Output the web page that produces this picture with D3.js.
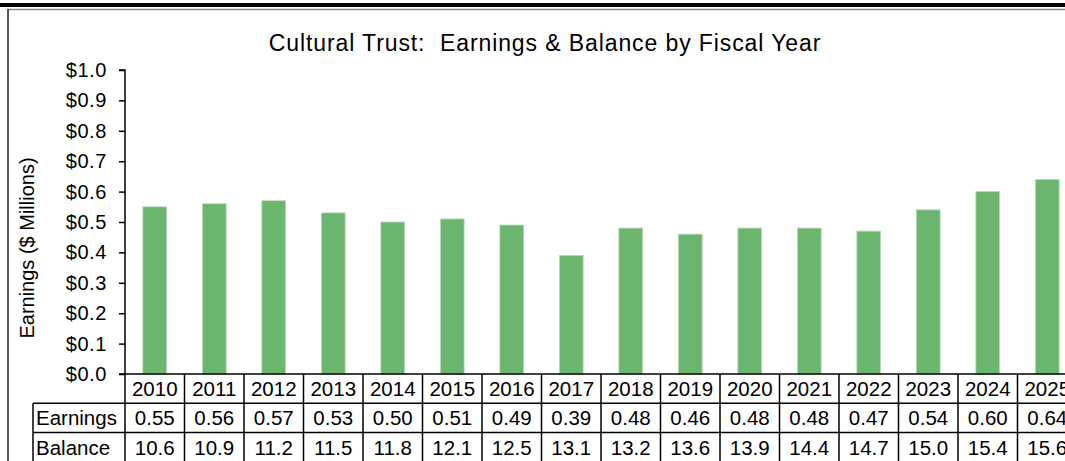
<!DOCTYPE html>
<html>
<head>
<meta charset="utf-8">
<script src="https://cdn.jsdelivr.net/npm/d3@7"></script>
<style>
  html, body { margin: 0; padding: 0; background: #fff; }
  svg { display: block; font-family: "Liberation Sans", Arial, sans-serif; }
  text { white-space: pre; }
</style>
</head>
<body>
<svg id="chart" width="1065" height="461"></svg>
<script>
const years = ["2010","2011","2012","2013","2014","2015","2016","2017","2018","2019","2020","2021","2022","2023","2024","2025"];
const earnings = [0.55,0.56,0.57,0.53,0.50,0.51,0.49,0.39,0.48,0.46,0.48,0.48,0.47,0.54,0.60,0.64];
const balance = [10.6,10.9,11.2,11.5,11.8,12.1,12.5,13.1,13.2,13.6,13.9,14.4,14.7,15.0,15.4,15.6];
const yTicks = [0,0.1,0.2,0.3,0.4,0.5,0.6,0.7,0.8,0.9,1.0];
const rowLabels = ["Earnings","Balance"];
const titleText = "Cultural Trust:  Earnings & Balance by Fiscal Year";
const yTitle = "Earnings ($ Millions)";

const svg = d3.select("#chart");
const W = 1065, H = 461;

// page decorations: heavy rule and chart frame
svg.append("rect").attr("x",0).attr("y",3).attr("width",W).attr("height",4).attr("fill","#000");
svg.append("line").attr("x1",8).attr("x2",W).attr("y1",9.5).attr("y2",9.5).attr("stroke","#888").attr("stroke-width",1.5);
svg.append("line").attr("x1",8).attr("x2",8).attr("y1",9).attr("y2",H).attr("stroke","#222").attr("stroke-width",1.5);

const plotLeft = 125, step = 59.5;
const plotRight = plotLeft + step * years.length;
const y0 = 374, y1 = 70;

const x = d3.scaleBand().domain(years).range([plotLeft, plotRight]).paddingInner(0.6).paddingOuter(0.3);
const xCol = d3.scaleBand().domain(years).range([plotLeft, plotRight]).padding(0);
const y = d3.scaleLinear().domain([0,1]).range([y0, y1]);

// title
svg.append("text").attr("x",545).attr("y",51).attr("text-anchor","middle")
  .attr("font-size",23).attr("letter-spacing",0.9).attr("fill","#000").text(titleText);

// y axis title
svg.append("text").attr("transform","translate(34,248) rotate(-90)").attr("text-anchor","middle")
  .attr("font-size",20).attr("fill","#000").text(yTitle);

// bars
svg.append("g").selectAll("rect").data(years).join("rect")
  .attr("x", d => x(d)).attr("width", x.bandwidth())
  .attr("y", (d,i) => y(earnings[i])).attr("height", (d,i) => y0 - y(earnings[i]))
  .attr("fill","#6bb56e").attr("stroke","#b9ddb9").attr("stroke-width",0.8);

// y axis
const yAxis = d3.axisLeft(y).tickValues(yTicks).tickSize(6).tickPadding(12)
  .tickFormat(d => "$" + d3.format(".1f")(d));
const ga = svg.append("g").attr("transform",`translate(${plotLeft},0)`).call(yAxis);
ga.select(".domain").attr("stroke","#000").attr("stroke-width",1.5).attr("d",`M-6,${y1}H0V${y0}`);
ga.selectAll(".tick line").attr("stroke","#000").attr("stroke-width",1.5);
ga.selectAll(".tick text").attr("font-size",20).attr("letter-spacing",0.6)
  .attr("font-family","Liberation Sans, Arial, sans-serif").attr("fill","#000");

// data table
const rowH = 29.3;
const tbl = svg.append("g");
const lineAttrs = sel => sel.attr("stroke","#000").attr("stroke-width",1.5);
tbl.append("line").attr("x1",plotLeft-6).attr("x2",plotRight).attr("y1",y0).attr("y2",y0).call(lineAttrs);
[1,2,3].forEach(k => {
  tbl.append("line").attr("x1",33).attr("x2",plotRight).attr("y1",y0+k*rowH).attr("y2",y0+k*rowH).call(lineAttrs);
});
years.forEach(yr => {
  tbl.append("line").attr("x1",xCol(yr)).attr("x2",xCol(yr)).attr("y1",y0).attr("y2",y0+3*rowH).call(lineAttrs);
});
tbl.append("line").attr("x1",plotRight).attr("x2",plotRight).attr("y1",y0).attr("y2",y0+3*rowH).call(lineAttrs);
tbl.append("line").attr("x1",33).attr("x2",33).attr("y1",y0+rowH).attr("y2",y0+3*rowH).call(lineAttrs);

const fs = 20.5;
tbl.selectAll("text.yr").data(years).join("text").attr("class","yr")
  .attr("x", d => xCol(d) + xCol.bandwidth()/2).attr("y", y0 + rowH/2 + 7.5)
  .attr("text-anchor","middle").attr("font-size",fs).text(d => d);
tbl.selectAll("text.er").data(earnings).join("text").attr("class","er")
  .attr("x", (d,i) => xCol(years[i]) + xCol.bandwidth()/2).attr("y", y0 + rowH*1.5 + 7.5)
  .attr("text-anchor","middle").attr("font-size",fs).text(d => d3.format(".2f")(d));
tbl.selectAll("text.ba").data(balance).join("text").attr("class","ba")
  .attr("x", (d,i) => xCol(years[i]) + xCol.bandwidth()/2).attr("y", y0 + rowH*2.5 + 7.5)
  .attr("text-anchor","middle").attr("font-size",fs).text(d => d3.format(".1f")(d));
tbl.selectAll("text.rl").data(rowLabels).join("text").attr("class","rl")
  .attr("x", 36).attr("y", (d,i) => y0 + rowH*(1.5+i) + 7.5)
  .attr("font-size",fs).text(d => d);
</script>
</body>
</html>
